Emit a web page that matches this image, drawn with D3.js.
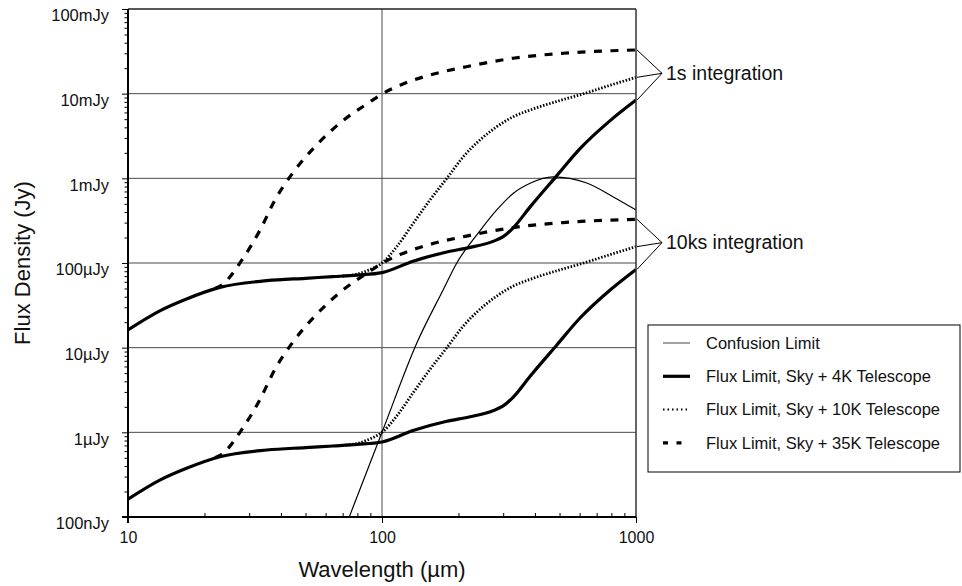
<!DOCTYPE html>
<html>
<head>
<meta charset="utf-8">
<script src="https://cdn.jsdelivr.net/npm/d3@7"></script>
<style>
    body { margin: 0; background: #fff; }
    svg { display: block; font-family: "Liberation Sans", Arial, sans-serif; }
</style>
</head>
<body>
<div id="chart"></div>
<script>
// wavelength in micron, flux density in Jy
const wavelength4K = [10, 13.4, 17, 23, 35.2, 50, 64.1, 80, 100, 132.5, 180, 220, 273.5, 300, 328, 383, 487, 602, 791, 1000];
const flux4K1s = [1.62e-5, 2.74e-5, 3.76e-5, 5.15e-5, 6.18e-5, 6.6e-5, 6.9e-5, 7.2e-5, 7.7e-5, 1.05e-4, 1.35e-4, 1.52e-4, 1.80e-4, 2.05e-4, 2.59e-4, 4.6e-4, 1.07e-3, 2.24e-3, 4.8e-3, 8.4e-3];
const flux4K10ks = [1.62e-7, 2.74e-7, 3.76e-7, 5.15e-7, 6.18e-7, 6.6e-7, 6.9e-7, 7.2e-7, 7.7e-7, 1.05e-6, 1.35e-6, 1.52e-6, 1.80e-6, 2.05e-6, 2.59e-6, 4.6e-6, 1.07e-5, 2.24e-5, 4.8e-5, 8.4e-5];

const wavelength10K = [70, 80, 90, 100, 114.3, 132.7, 154.5, 180, 209, 243, 283, 329, 383, 502, 602, 800, 1000];
const flux10K1s = [7.0e-5, 7.4e-5, 8.4e-5, 1.0e-4, 1.56e-4, 2.94e-4, 5.55e-4, 1.0e-3, 1.8e-3, 2.84e-3, 4.07e-3, 5.35e-3, 6.41e-3, 8.3e-3, 9.7e-3, 1.27e-2, 1.56e-2];
const flux10K10ks = [7.0e-7, 7.4e-7, 8.4e-7, 1.0e-6, 1.56e-6, 2.94e-6, 5.55e-6, 1.0e-5, 1.8e-5, 2.84e-5, 4.07e-5, 5.35e-5, 6.41e-5, 8.3e-5, 9.7e-5, 1.27e-4, 1.56e-4];

const wavelength35K = [22, 23.4, 28.4, 33.1, 37.9, 45.4, 55.3, 69.4, 89.7, 100, 117.8, 154.6, 215, 328, 516, 1000];
const flux35K1s = [5.0e-5, 5.5e-5, 1.14e-4, 2.45e-4, 5.55e-4, 1.25e-3, 2.48e-3, 4.67e-3, 8.0e-3, 9.9e-3, 1.26e-2, 1.66e-2, 2.08e-2, 2.62e-2, 3.0e-2, 3.28e-2];
const flux35K10ks = [5.0e-7, 5.5e-7, 1.14e-6, 2.45e-6, 5.55e-6, 1.25e-5, 2.48e-5, 4.67e-5, 8.0e-5, 9.9e-5, 1.26e-4, 1.66e-4, 2.08e-4, 2.62e-4, 3.0e-4, 3.28e-4];

const wavelengthConf = [74.3, 100, 137, 174, 197, 243, 283, 329, 383, 471, 640, 811, 1000];
const fluxConf = [1e-7, 1.0e-6, 1.13e-5, 4.8e-5, 1.0e-4, 2.4e-4, 4.23e-4, 6.65e-4, 8.73e-4, 1.04e-3, 8.8e-4, 6.07e-4, 4.23e-4];

const xTicks = [10, 100, 1000];
const xTickLabels = ['10', '100', '1000'];
const yTicks = [1e-7, 1e-6, 1e-5, 1e-4, 1e-3, 1e-2, 1e-1];
const yTickLabels = ['100nJy', '1\u00b5Jy', '10\u00b5Jy', '100\u00b5Jy', '1mJy', '10mJy', '100mJy'];

const legendLabels = ['Confusion Limit', 'Flux Limit, Sky + 4K Telescope', 'Flux Limit, Sky + 10K Telescope', 'Flux Limit, Sky + 35K Telescope'];

const width = 962, height = 586;
const margin = {top: 9, right: 326, bottom: 69, left: 128};
const innerW = width - margin.left - margin.right;
const innerH = height - margin.top - margin.bottom;

const styles = {
    conf: {width: 1.2, dash: null},
    k4: {width: 3.2, dash: null},
    k10: {width: 2.8, dash: '1.5,1.7'},
    k35: {width: 3.2, dash: '8,8.5'}
};

const svg = d3.select('#chart').append('svg')
    .attr('width', width)
    .attr('height', height);

const g = svg.append('g')
    .attr('transform', `translate(${margin.left},${margin.top})`);

const x = d3.scaleLog().domain([10, 1000]).range([0, innerW]);
const y = d3.scaleLog().domain([1e-7, 1e-1]).range([innerH, 0]);

// minor ticks 2..9 in every decade
function minors(lo, hi) {
    const out = [];
    for (let d = lo; d < hi; d *= 10) {
        for (let k = 2; k <= 9; k++) out.push(d * k);
    }
    return out;
}

// grid
g.selectAll('.hgrid')
    .data(yTicks.slice(1, -1))
    .enter().append('line')
    .attr('x1', 0).attr('x2', innerW)
    .attr('y1', d => y(d)).attr('y2', d => y(d))
    .attr('stroke', '#4a4a4a').attr('stroke-width', 1);

g.append('line')
    .attr('x1', x(100)).attr('x2', x(100))
    .attr('y1', 0).attr('y2', innerH)
    .attr('stroke', '#4a4a4a').attr('stroke-width', 1);

g.append('defs').append('clipPath').attr('id', 'plotClip')
    .append('rect').attr('width', innerW).attr('height', innerH);

const line = d3.line()
    .x(d => x(d[0]))
    .y(d => y(d[1]))
    .curve(d3.curveMonotoneX);

const series = [
    {xs: wavelengthConf, ys: fluxConf, s: styles.conf},
    {xs: wavelength4K, ys: flux4K1s, s: styles.k4},
    {xs: wavelength4K, ys: flux4K10ks, s: styles.k4},
    {xs: wavelength10K, ys: flux10K1s, s: styles.k10},
    {xs: wavelength10K, ys: flux10K10ks, s: styles.k10},
    {xs: wavelength35K, ys: flux35K1s, s: styles.k35},
    {xs: wavelength35K, ys: flux35K10ks, s: styles.k35}
];

const plot = g.append('g').attr('clip-path', 'url(#plotClip)');
plot.selectAll('.curve')
    .data(series)
    .enter().append('path')
    .attr('class', 'curve')
    .attr('fill', 'none')
    .attr('stroke', '#000')
    .attr('stroke-width', d => d.s.width)
    .attr('stroke-dasharray', d => d.s.dash)
    .attr('d', d => line(d.xs.map((v, i) => [v, d.ys[i]])));

// frame
g.append('line').attr('x1', 0).attr('x2', innerW).attr('y1', 0).attr('y2', 0)
    .attr('stroke', '#222').attr('stroke-width', 1.5);
g.append('line').attr('x1', innerW).attr('x2', innerW).attr('y1', 0).attr('y2', innerH)
    .attr('stroke', '#333').attr('stroke-width', 1.5);

// axes
const yAxis = g.append('g')
    .call(d3.axisLeft(y).tickValues(yTicks).tickSize(6).tickPadding(13)
        .tickFormat((d, i) => yTickLabels[i]));
g.append('g')
    .call(d3.axisLeft(y).tickValues(minors(1e-7, 1e-1)).tickSize(3.5).tickFormat(''));

const xAxis = g.append('g')
    .attr('transform', `translate(0,${innerH})`)
    .call(d3.axisBottom(x).tickValues(xTicks).tickSize(6).tickPadding(9)
        .tickFormat((d, i) => xTickLabels[i]));
g.append('g')
    .attr('transform', `translate(0,${innerH})`)
    .call(d3.axisBottom(x).tickValues(minors(10, 1000)).tickSize(-4).tickFormat(''));

g.selectAll('.domain').remove();
g.selectAll('.tick').select(function() { return this.parentNode; })
    .attr('font-family', null).attr('font-size', null);
g.selectAll('.tick line').attr('stroke', '#000').attr('stroke-width', 1);
g.selectAll('.tick text').attr('font-size', 16).attr('fill', '#111');
yAxis.selectAll('.tick text').attr('font-size', 16.5).attr('dy', '0.72em');

g.append('line').attr('x1', 0).attr('x2', 0).attr('y1', 0).attr('y2', innerH + 6)
    .attr('stroke', '#000').attr('stroke-width', 2);
g.append('line').attr('x1', -6).attr('x2', innerW).attr('y1', innerH).attr('y2', innerH)
    .attr('stroke', '#000').attr('stroke-width', 2);

// axis titles
svg.append('text')
    .attr('x', margin.left + x(100))
    .attr('y', 577)
    .attr('text-anchor', 'middle')
    .attr('font-size', 22)
    .attr('fill', '#111')
    .text('Wavelength (\u00b5m)');

svg.append('text')
    .attr('transform', `translate(30,${margin.top + innerH / 2}) rotate(-90)`)
    .attr('text-anchor', 'middle')
    .attr('font-size', 22)
    .attr('fill', '#111')
    .text('Flux Density (Jy)');

// integration brackets
const brackets = [
    {label: '1s integration', ends: [flux35K1s, flux10K1s, flux4K1s]},
    {label: '10ks integration', ends: [flux35K10ks, flux10K10ks, flux4K10ks]}
];
brackets.forEach(b => {
    const x0 = x(1000) + 1;
    const apexX = x(1000) + 26;
    const apexY = y(b.ends[1][b.ends[1].length - 1]) - 4;
    b.ends.forEach(arr => {
        g.append('line')
            .attr('x1', x0).attr('y1', y(arr[arr.length - 1]))
            .attr('x2', apexX).attr('y2', apexY)
            .attr('stroke', '#000').attr('stroke-width', 1);
    });
    g.append('text')
        .attr('x', apexX + 4)
        .attr('y', apexY)
        .attr('dy', '0.35em')
        .attr('font-size', 19.5)
        .attr('fill', '#111')
        .text(b.label);
});

// legend
const legend = svg.append('g').attr('transform', 'translate(648,325)');
legend.append('rect')
    .attr('width', 312).attr('height', 147)
    .attr('fill', '#fff').attr('stroke', '#000').attr('stroke-width', 1);

const legendStyles = [
    {width: 1, dash: null, color: '#444', len: 27},
    {width: 3.2, dash: null, color: '#000', len: 27},
    {width: 2, dash: '1.5,3', color: '#000', len: 27},
    {width: 3.2, dash: '5,8.5', color: '#000', len: 19}
];
const rows = legend.selectAll('.row')
    .data(legendLabels)
    .enter().append('g')
    .attr('transform', (d, i) => `translate(0,${18 + i * 33.3})`);
rows.append('line')
    .attr('x1', 15).attr('x2', (d, i) => 15 + legendStyles[i].len)
    .attr('stroke', (d, i) => legendStyles[i].color)
    .attr('stroke-width', (d, i) => legendStyles[i].width)
    .attr('stroke-dasharray', (d, i) => legendStyles[i].dash);
rows.append('text')
    .attr('x', 58)
    .attr('dy', '0.35em')
    .attr('font-size', 16.5)
    .attr('fill', '#111')
    .text(d => d);
</script>
</body>
</html>
